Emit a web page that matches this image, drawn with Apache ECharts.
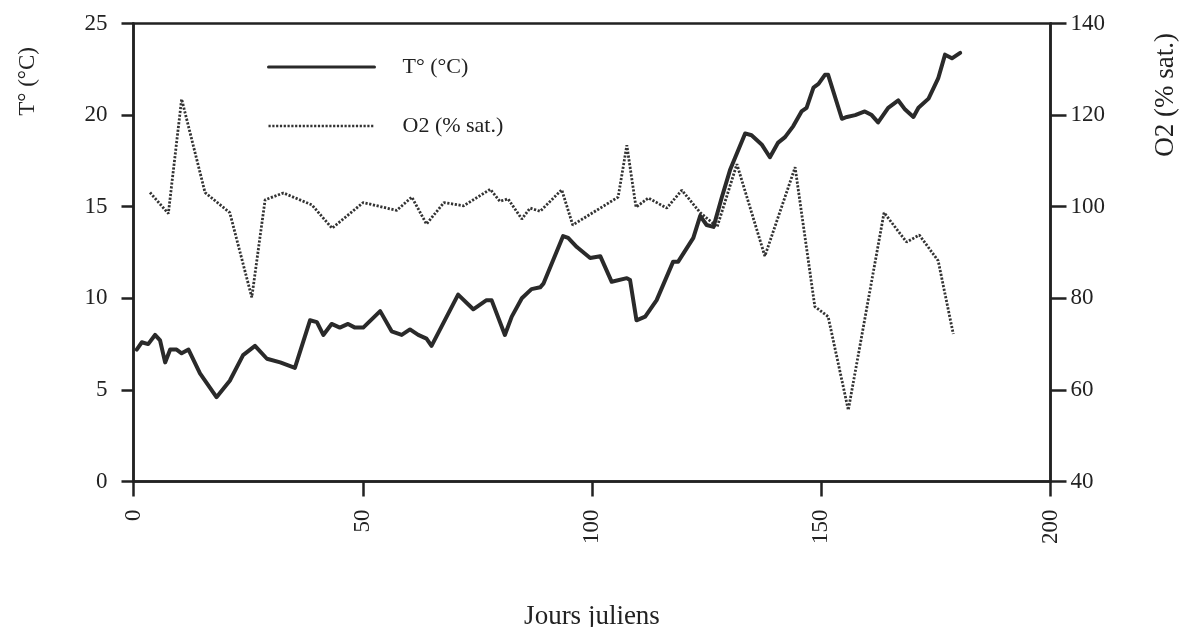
<!DOCTYPE html>
<html>
<head>
<meta charset="utf-8">
<script src="https://cdn.jsdelivr.net/npm/echarts@6/dist/echarts.min.js"></script>
<style>
  html, body { margin: 0; padding: 0; background: #fff; }
  #chart { width: 1179px; height: 627px; }
</style>
</head>
<body>
<div id="chart"></div>
<script>
// Water temperature (°C) against Julian day
const tempDays = [0.7, 1.8, 3.2, 4.7, 5.8, 6.9, 8.0, 9.4, 10.5, 12.0, 14.5, 18.1, 21.0, 23.9, 26.5, 29.1, 32.0, 35.2,
  38.5, 40.0, 41.4, 43.2, 45.0, 46.8, 48.3, 50.1, 53.8, 56.3, 58.5, 60.3, 62.1, 63.9, 65.0, 70.8, 74.1, 77.0, 78.1,
  81.0, 82.5, 84.7, 86.8, 88.7, 89.4, 93.7, 94.8, 96.7, 99.6, 101.8, 104.3, 107.6, 108.3, 109.7, 111.6, 114.1,
  117.7, 118.8, 122.1, 123.6, 125.0, 126.5, 128.3, 130.1, 133.4, 134.8, 137.0, 138.8, 140.6, 142.1, 143.9, 145.7,
  146.8, 148.3, 149.4, 150.8, 151.5, 154.5, 155.6, 157.4, 159.5, 161.0, 162.4, 164.6, 166.8, 168.3, 170.1, 171.2,
  173.4, 175.5, 177.0, 178.5, 180.3];
const tempValues = [7.2, 7.6, 7.5, 8.0, 7.7, 6.5, 7.2, 7.2, 7.0, 7.2, 5.9, 4.6, 5.5, 6.9, 7.4, 6.7, 6.5, 6.2,
  8.8, 8.7, 8.0, 8.6, 8.4, 8.6, 8.4, 8.4, 9.3, 8.2, 8.0, 8.3, 8.0, 7.8, 7.4, 10.2, 9.4, 9.9, 9.9,
  8.0, 9.0, 10.0, 10.5, 10.6, 10.8, 13.4, 13.3, 12.8, 12.2, 12.3, 10.9, 11.1, 11.0, 8.8, 9.0, 9.9,
  12.0, 12.0, 13.3, 14.5, 14.0, 13.9, 15.5, 17.0, 19.0, 18.9, 18.4, 17.7, 18.5, 18.8, 19.4, 20.2,
  20.4, 21.5, 21.7, 22.2, 22.2, 19.8, 19.9, 20.0, 20.2, 20.0, 19.6, 20.4, 20.8, 20.3, 19.9, 20.4,
  20.9, 22.0, 23.3, 23.1, 23.4];

// Oxygen saturation (%) against Julian day
const o2Days = [3.6, 7.6, 10.5, 15.6, 21.0, 25.8, 28.7, 32.7, 38.9, 43.3, 50.1, 57.4, 60.7, 63.9, 67.7, 72.0,
  77.8, 79.9, 81.7, 84.7, 86.5, 88.7, 93.4, 95.8, 105.7, 107.6, 109.6, 112.3, 116.3, 119.6, 123.6, 127.3,
  131.6, 137.7, 144.3, 148.6, 151.5, 155.9, 163.7, 168.6, 171.4, 175.5, 178.8];
const o2Values = [103.1, 98.5, 123.5, 103.1, 98.7, 80.2, 101.5, 103.0, 100.4, 95.3, 100.9, 99.2, 102.1, 96.2,
  100.9, 100.2, 103.8, 101.2, 101.7, 97.3, 99.7, 99.0, 103.7, 96.0, 102.1, 113.4, 99.9, 101.9, 99.7, 103.6,
  98.7, 95.6, 109.3, 89.2, 108.6, 78.2, 76.0, 55.6, 98.7, 92.3, 93.8, 88.2, 72.2];

const xTicks = { min: 0, max: 200, step: 50 };
const tempTicks = { min: 0, max: 25, step: 5 };
const o2Ticks = { min: 40, max: 140, step: 20 };

const tempName = 'T° (°C)';
const o2Name = 'O2 (% sat.)';
const xName = 'Jours juliens';

const ink = '#222';
const serif = '"Liberation Serif", "DejaVu Serif", serif';

const zip = (xs, ys) => xs.map((x, i) => [x, ys[i]]);

const chart = echarts.init(document.getElementById('chart'), null, { renderer: 'canvas' });

chart.setOption({
  backgroundColor: '#fff',
  animation: false,
  textStyle: { fontFamily: serif, color: ink },
  grid: {
    left: 133.5, right: 128.5, top: 23.5, bottom: 145.5,
    containLabel: false, outerBoundsMode: 'none',
    show: true, borderColor: ink, borderWidth: 2.5, backgroundColor: 'transparent'
  },
  legend: {
    orient: 'vertical',
    left: 262, top: 51,
    itemWidth: 106, itemHeight: 14, itemGap: 37,
    itemStyle: { opacity: 0 },
    textStyle: { fontFamily: serif, fontSize: 22, color: ink, padding: [0, 0, 0, 23] },
    data: [
      { name: tempName, lineStyle: { width: 3 } },
      { name: o2Name, lineStyle: { width: 2.6 } }
    ]
  },
  xAxis: {
    type: 'value',
    min: xTicks.min, max: xTicks.max, interval: xTicks.step,
    name: xName, nameLocation: 'middle', nameGap: 122,
    nameTextStyle: { fontFamily: serif, fontSize: 27, color: ink },
    axisLine: { show: true, lineStyle: { color: ink, width: 2.5 } },
    axisTick: { show: true, length: 15, lineStyle: { color: ink, width: 2.5 } },
    axisLabel: { rotate: 90, margin: 28, fontFamily: serif, fontSize: 23, color: ink },
    splitLine: { show: false }
  },
  yAxis: [
    {
      type: 'value', position: 'left',
      min: tempTicks.min, max: tempTicks.max, interval: tempTicks.step,
      axisLine: { show: true, lineStyle: { color: ink, width: 2.5 } },
      axisTick: { show: true, length: 12, lineStyle: { color: ink, width: 2.5 } },
      axisLabel: { margin: 26, fontFamily: serif, fontSize: 23, color: ink },
      splitLine: { show: false }
    },
    {
      type: 'value', position: 'right',
      min: o2Ticks.min, max: o2Ticks.max, interval: o2Ticks.step,
      axisLine: { show: true, lineStyle: { color: ink, width: 2.5 } },
      axisTick: { show: true, length: 16, lineStyle: { color: ink, width: 2.5 } },
      axisLabel: { margin: 20, fontFamily: serif, fontSize: 23, color: ink },
      splitLine: { show: false }
    }
  ],
  graphic: [
    {
      type: 'text', left: 16, top: 47, rotation: Math.PI / 2,
      style: { text: tempName, font: '23px ' + serif, fill: ink }
    },
    {
      type: 'text', left: 1152, top: 33, rotation: Math.PI / 2,
      style: { text: o2Name, font: '27px ' + serif, fill: ink }
    }
  ],
  series: [
    {
      name: tempName, type: 'line', yAxisIndex: 0,
      data: zip(tempDays, tempValues),
      showSymbol: false, symbol: 'none',
      lineStyle: { color: '#2a2a2a', width: 4, join: 'round', cap: 'round' },
      itemStyle: { color: '#2a2a2a' },
      z: 3
    },
    {
      name: o2Name, type: 'line', yAxisIndex: 1,
      data: zip(o2Days, o2Values),
      showSymbol: false, symbol: 'none',
      lineStyle: { color: '#333', width: 2.8, type: [2.2, 1.6] },
      itemStyle: { color: '#333' },
      z: 2
    }
  ]
});
</script>
</body>
</html>
